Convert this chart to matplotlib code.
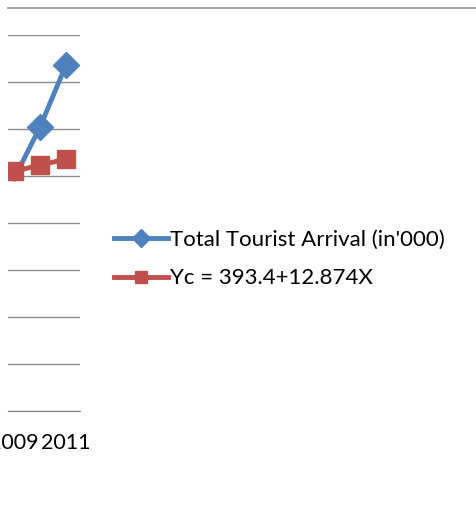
import matplotlib.pyplot as plt
from matplotlib.lines import Line2D

years = [2009, 2010, 2011]
arrivals = [494, 604, 736]
trend = [510, 523, 536]
year_labels = ['2009', '2011']
series_names = ["Total Tourist Arrival (in'000)", 'Yc = 393.4+12.874X']

W, H = 476, 521
fig = plt.figure(figsize=(W / 100, H / 100), dpi=100)
ax = fig.add_axes([8 / W, 110 / H, 72 / W, 376 / H])

blue = '#4F81BD'
red = '#C0504D'

# first blue marker sits hidden under the red square in the original
ax.plot(years, arrivals, color=blue, lw=3.5, marker='D', ms=13, markevery=[1, 2],
        label=series_names[0], zorder=3)
ax.plot(years, trend, color=red, lw=3.5, marker='s', ms=13,
        label=series_names[1], zorder=4)

ax.set_xlim(2008.77, 2011.54)
ax.set_ylim(0, 800)
ax.set_yticks(range(0, 801, 100))
ax.yaxis.grid(True, color='#8C8C8C', lw=1)
ax.set_axisbelow(True)
ax.set_yticklabels([])
ax.tick_params(axis='y', length=0)
ax.set_xticks([2009, 2011])
ax.set_xticklabels(year_labels, fontfamily='Lato', fontsize=15.5)
ax.tick_params(axis='x', length=0, pad=16)
for s in ['top', 'left', 'right']:
    ax.spines[s].set_visible(False)
ax.spines['bottom'].set_color('#808080')

# chart area top border
fig.add_artist(Line2D([8 / W, 1], [1 - 8 / H, 1 - 8 / H], color='#8C8C8C', lw=1.2,
                      transform=fig.transFigure))

fig.legend(loc='center left', bbox_to_anchor=(114 / W, 262 / H), frameon=False,
           prop={'family': 'Lato', 'size': 16}, borderpad=0, borderaxespad=0,
           handlelength=2.45, handletextpad=0.05, labelspacing=0.85, markerscale=0.7)

fig.savefig('out.png', dpi=100)
